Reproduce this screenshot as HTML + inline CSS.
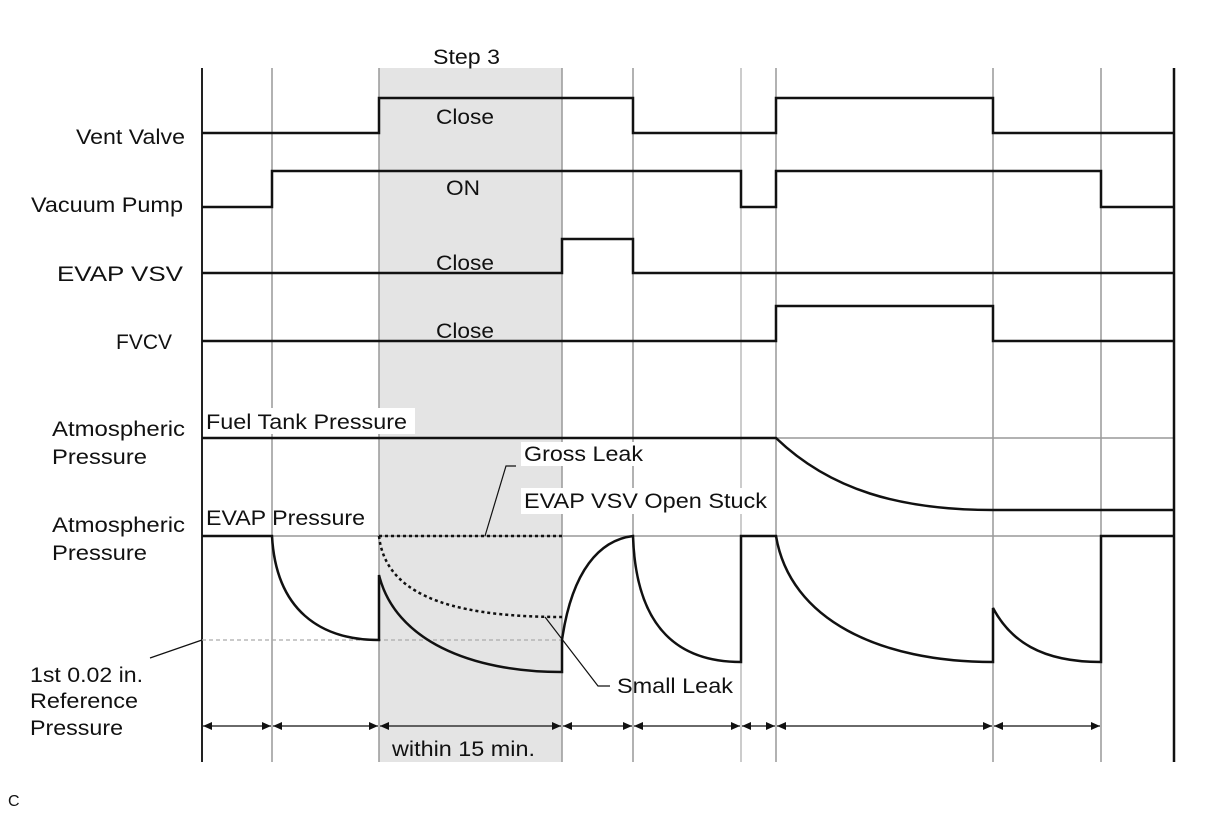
<!DOCTYPE html>
<html><head><style>
html,body{margin:0;padding:0;background:#fff;}
svg{display:block;font-family:"Liberation Sans",Arial,sans-serif;}
</style></head><body>
<svg width="1210" height="814" viewBox="0 0 1210 814" xmlns="http://www.w3.org/2000/svg">
<defs>
<marker id="a" markerWidth="10" markerHeight="8" refX="9" refY="4" orient="auto-start-reverse" markerUnits="userSpaceOnUse">
<path d="M0,0 L9,4 L0,8 Z" fill="#111"/>
</marker>
</defs>
<rect x="379" y="68" width="183" height="694" fill="#e4e4e4"/>
<g stroke="#999" stroke-width="1.5">
<line x1="272" y1="68" x2="272" y2="762"/>
<line x1="379" y1="68" x2="379" y2="762"/>
<line x1="562" y1="68" x2="562" y2="762"/>
<line x1="633" y1="68" x2="633" y2="762"/>
<line x1="741" y1="68" x2="741" y2="762" stroke="#bbb"/>
<line x1="776" y1="68" x2="776" y2="762"/>
<line x1="993" y1="68" x2="993" y2="762"/>
<line x1="1101" y1="68" x2="1101" y2="762"/>
<line x1="202" y1="438" x2="1174" y2="438"/>
<line x1="202" y1="536" x2="1174" y2="536"/>
</g>
<line x1="202" y1="68" x2="202" y2="762" stroke="#222" stroke-width="2"/>
<line x1="1174" y1="68" x2="1174" y2="762" stroke="#111" stroke-width="2.5"/>
<line x1="202" y1="640" x2="562" y2="640" stroke="#aaa" stroke-width="1.2" stroke-dasharray="4,3"/>
<rect x="203" y="408" width="212" height="26" fill="#fff"/>
<rect x="521" y="442" width="126" height="24" fill="#fff"/>
<rect x="521" y="488" width="250" height="26" fill="#fff"/>
<g fill="none" stroke="#111" stroke-width="2.5">
<path d="M202,133 H379 V98 H633 V133 H776 V98 H993 V133 H1174"/>
<path d="M202,207 H272 V171 H741 V207 H776 V171 H1101 V207 H1174"/>
<path d="M202,273 H562 V239 H633 V273 H1174"/>
<path d="M202,341 H776 V306 H993 V341 H1174"/>
<path d="M202,438 H776 C830,490 900,510 993,510 H1174"/>
<path d="M202,536 H272 C276,610 320,640 379,640 V575 C395,640 470,672 562,672 V640 C572,570 600,540 633,536 C636,630 680,662 741,662 V536 H776 C790,620 880,662 993,662 V608 C1010,640 1040,662 1101,662 V536 H1174"/>
</g>
<g fill="none" stroke="#111" stroke-width="2.5" stroke-dasharray="3,3">
<path d="M379,536 H562"/>
<path d="M379,536 C385,590 440,617 562,617"/>
</g>
<g fill="none" stroke="#111" stroke-width="1.2">
<path d="M485,536 L506,466 H516"/>
<path d="M545,617 L598,686 H610"/>
<path d="M150,658 L202,640"/>
</g>
<g stroke="#111" stroke-width="1.2" marker-start="url(#a)" marker-end="url(#a)">
<line x1="203" y1="726" x2="271" y2="726"/>
<line x1="273" y1="726" x2="378" y2="726"/>
<line x1="380" y1="726" x2="561" y2="726"/>
<line x1="563" y1="726" x2="632" y2="726"/>
<line x1="634" y1="726" x2="740" y2="726"/>
<line x1="742" y1="726" x2="775" y2="726"/>
<line x1="777" y1="726" x2="992" y2="726"/>
<line x1="994" y1="726" x2="1100" y2="726"/>
</g>
<g fill="#111" font-size="21" lengthAdjust="spacingAndGlyphs">
<text x="433" y="64" textLength="67" lengthAdjust="spacingAndGlyphs">Step 3</text>
<text x="76" y="144" textLength="109" lengthAdjust="spacingAndGlyphs">Vent Valve</text>
<text x="31" y="212" textLength="152" lengthAdjust="spacingAndGlyphs">Vacuum Pump</text>
<text x="57" y="281" textLength="126" lengthAdjust="spacingAndGlyphs">EVAP VSV</text>
<text x="116" y="349" textLength="56" lengthAdjust="spacingAndGlyphs">FVCV</text>
<text x="436" y="124" textLength="58" lengthAdjust="spacingAndGlyphs">Close</text>
<text x="446" y="195" textLength="34" lengthAdjust="spacingAndGlyphs">ON</text>
<text x="436" y="270" textLength="58" lengthAdjust="spacingAndGlyphs">Close</text>
<text x="436" y="338" textLength="58" lengthAdjust="spacingAndGlyphs">Close</text>
<text x="52" y="436" textLength="133" lengthAdjust="spacingAndGlyphs">Atmospheric</text>
<text x="52" y="464" textLength="95" lengthAdjust="spacingAndGlyphs">Pressure</text>
<text x="52" y="532" textLength="133" lengthAdjust="spacingAndGlyphs">Atmospheric</text>
<text x="52" y="560" textLength="95" lengthAdjust="spacingAndGlyphs">Pressure</text>
<text x="206" y="429" textLength="201" lengthAdjust="spacingAndGlyphs">Fuel Tank Pressure</text>
<text x="206" y="525" textLength="159" lengthAdjust="spacingAndGlyphs">EVAP Pressure</text>
<text x="524" y="461" textLength="119" lengthAdjust="spacingAndGlyphs">Gross Leak</text>
<text x="524" y="508" textLength="243" lengthAdjust="spacingAndGlyphs">EVAP VSV Open Stuck</text>
<text x="617" y="693" textLength="116" lengthAdjust="spacingAndGlyphs">Small Leak</text>
<text x="30" y="682" textLength="113" lengthAdjust="spacingAndGlyphs">1st 0.02 in.</text>
<text x="30" y="708" textLength="108" lengthAdjust="spacingAndGlyphs">Reference</text>
<text x="30" y="735" textLength="93" lengthAdjust="spacingAndGlyphs">Pressure</text>
<text x="392" y="756" textLength="143" lengthAdjust="spacingAndGlyphs">within 15 min.</text>
<text x="8" y="806" font-size="16">C</text>
</g>
</svg>
</body></html>
